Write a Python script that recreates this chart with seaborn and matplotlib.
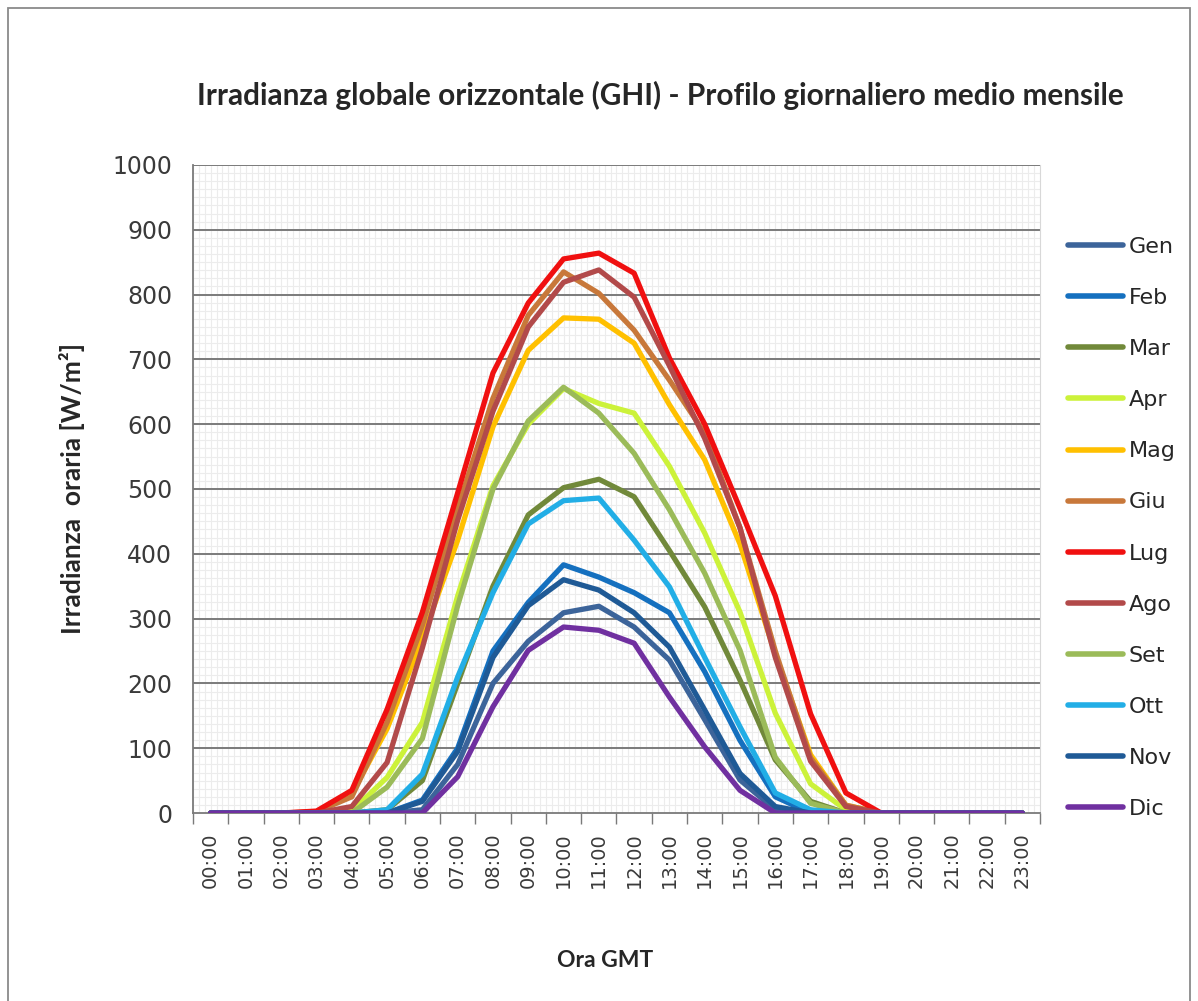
import matplotlib
matplotlib.use("Agg")
import matplotlib.pyplot as plt
import seaborn as sns
import pandas as pd
import numpy as np
from matplotlib.patches import Rectangle

# hourly labels (GMT)
hours = ["00:00", "01:00", "02:00", "03:00", "04:00", "05:00", "06:00", "07:00",
         "08:00", "09:00", "10:00", "11:00", "12:00", "13:00", "14:00", "15:00",
         "16:00", "17:00", "18:00", "19:00", "20:00", "21:00", "22:00", "23:00"]

months = ["Gen", "Feb", "Mar", "Apr", "Mag", "Giu", "Lug", "Ago", "Set", "Ott", "Nov", "Dic"]

# mean hourly GHI per month [W/m2]
gen = [0, 0, 0, 0, 0, 0, 5, 75, 200, 265, 309, 319, 287, 236, 144, 51, 5, 0, 0, 0, 0, 0, 0, 0]
feb = [0, 0, 0, 0, 0, 0, 20, 100, 250, 325, 383, 364, 340, 309, 218, 112, 25, 0, 0, 0, 0, 0, 0, 0]
mar = [0, 0, 0, 0, 0, 5, 50, 200, 350, 460, 502, 515, 488, 405, 318, 205, 82, 18, 0, 0, 0, 0, 0, 0]
apr = [0, 0, 0, 0, 3, 55, 140, 335, 505, 600, 655, 632, 617, 535, 432, 310, 154, 45, 5, 0, 0, 0, 0, 0]
mag = [0, 0, 0, 0, 30, 130, 270, 421, 596, 714, 764, 762, 725, 630, 545, 415, 245, 90, 12, 0, 0, 0, 0, 0]
giu = [0, 0, 0, 2, 25, 140, 290, 470, 640, 768, 835, 802, 745, 668, 586, 440, 250, 85, 12, 0, 0, 0, 0, 0]
lug = [0, 0, 0, 3, 35, 160, 310, 494, 679, 787, 855, 864, 833, 702, 600, 470, 335, 153, 31, 0, 0, 0, 0, 0]
ago = [0, 0, 0, 0, 10, 78, 255, 452, 620, 750, 819, 838, 796, 690, 578, 440, 240, 80, 10, 0, 0, 0, 0, 0]
set_ = [0, 0, 0, 0, 0, 40, 115, 320, 500, 605, 657, 617, 555, 468, 370, 251, 86, 15, 0, 0, 0, 0, 0, 0]
ott = [0, 0, 0, 0, 0, 5, 60, 210, 340, 446, 482, 486, 421, 349, 240, 133, 31, 5, 0, 0, 0, 0, 0, 0]
nov = [0, 0, 0, 0, 0, 0, 18, 95, 240, 320, 360, 344, 309, 256, 159, 61, 10, 0, 0, 0, 0, 0, 0, 0]
dic = [0, 0, 0, 0, 0, 0, 0, 56, 164, 251, 287, 282, 262, 179, 102, 35, 0, 0, 0, 0, 0, 0, 0, 0]

colors = ["#3C649A", "#1570BF", "#71893A", "#CCF23A", "#FFC000", "#C8783A",
          "#F01010", "#B24A4A", "#9BBB59", "#22AEE6", "#1F5A96", "#7030A0"]

series = [gen, feb, mar, apr, mag, giu, lug, ago, set_, ott, nov, dic]
frames = []
for m, vals in zip(months, series):
    frames.append(pd.DataFrame({"ora": np.arange(len(hours)), "mese": m, "ghi": vals}))
df = pd.concat(frames, ignore_index=True)

sns.set_style("white")
plt.rcParams["font.family"] = ["DejaVu Sans"]

fig = plt.figure(figsize=(11.98, 10.01), dpi=100)
ax = fig.add_axes([0.1611, 0.1878, 0.8681 - 0.1611, 0.8352 - 0.1878])

# fine background pattern like the Excel plot area
for xv in np.arange(-0.5, 23.5, 1 / 6):
    ax.axvline(xv, color="#ececec", lw=0.8, zorder=0)
for yv in np.arange(0, 1000, 12.5):
    ax.axhline(yv, color="#ececec", lw=0.8, zorder=0)
for yv in range(100, 1001, 100):
    ax.axhline(yv, color="#7a7a7a", lw=1.4, zorder=1)

sns.lineplot(data=df, x="ora", y="ghi", hue="mese", hue_order=months,
             palette=dict(zip(months, colors)), lw=3.8, sort=False,
             estimator=None, ax=ax, zorder=3)
for line in ax.get_lines():
    line.set_solid_joinstyle("round")
    line.set_solid_capstyle("round")

ax.set_xlim(-0.5, 23.5)
ax.set_ylim(0, 1000)
ax.set_yticks(range(0, 1001, 100))
ax.set_xticks(range(24))
ax.set_xticklabels(hours, rotation=90)
ax.set_xticks(np.arange(-0.5, 24, 1), minor=True)
ax.tick_params(axis="x", which="major", length=0, pad=14, labelsize=14, colors="#3a3a3a")
ax.tick_params(axis="x", which="minor", length=8, width=1, color="#7a7a7a", direction="out", bottom=True)
ax.tick_params(axis="y", length=7, width=1, color="#7a7a7a", pad=8, labelsize=17, labelcolor="#3a3a3a")

for s in ["left", "bottom"]:
    ax.spines[s].set_color("#7a7a7a")
    ax.spines[s].set_linewidth(1.3)
ax.spines["top"].set_visible(False)
ax.spines["right"].set_color("#d8d8d8")

ax.set_xlabel("Ora GMT", fontsize=16.5, fontweight="bold", family="Lato")
ax.xaxis.set_label_coords(0.486, -0.212)
ax.set_ylabel("Irradianza  oraria [W/m²]", fontsize=19, fontweight="bold", family="Lato")
ax.yaxis.set_label_coords(-0.128, 0.5)

fig.text(0.551, 0.905, "Irradianza globale orizzontale (GHI) - Profilo giornaliero medio mensile",
         ha="center", va="center", fontsize=21.4, fontweight="bold", family="Lato")

handles, labels = ax.get_legend_handles_labels()
ax.legend(handles, labels, loc="center left", bbox_to_anchor=(0.875, 0.4725),
          bbox_transform=fig.transFigure, frameon=False, fontsize=16,
          handlelength=2.45, handletextpad=0.27, labelspacing=1.40)
for lh in ax.get_legend().get_lines():
    lh.set_linewidth(4)

fig.patches.append(Rectangle((8 / 1198, -0.01), (1190 - 8) / 1198, 1.01 - 8 / 1001,
                             transform=fig.transFigure, fill=False,
                             edgecolor="#8a8a8a", lw=1.3))

fig.savefig("out.png", dpi=100, facecolor="white")
